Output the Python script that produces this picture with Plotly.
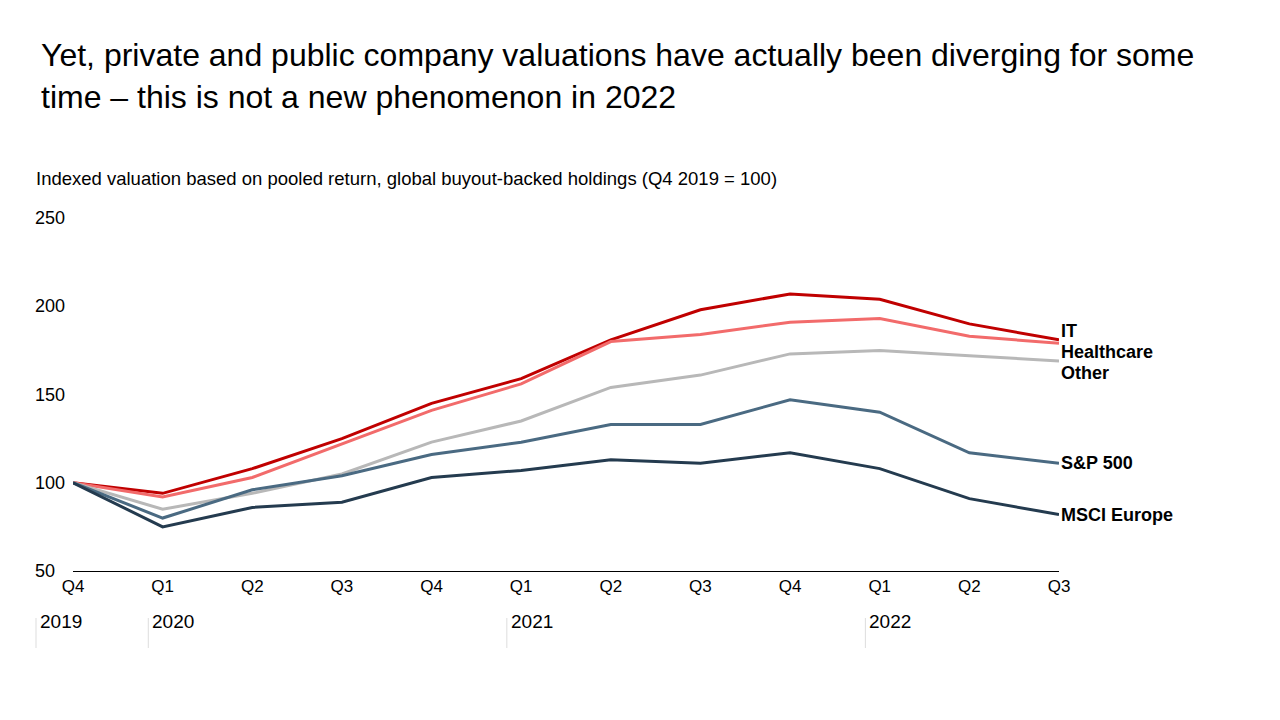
import plotly.graph_objects as go

quarters = ["Q4","Q1","Q2","Q3","Q4","Q1","Q2","Q3","Q4","Q1","Q2","Q3"]
years = ["2019","2020","2021","2022"]
year_start_idx = [0,1,5,9]
series_names = ["IT","Healthcare","Other","S&P 500","MSCI Europe"]
it = [100,94,108,125,145,159,181,198,207,204,190,181]
healthcare = [100,92,103,122,141,156,180,184,191,193,183,179]
other = [100,85,94,105,123,135,154,161,173,175,172,169]
sp500 = [100,80,96,104,116,123,133,133,147,140,117,111]
msci = [100,75,86,89,103,107,113,111,117,108,91,82]
y_ticks = [50,100,150,200,250]

colors = ["#c00000","#f26b6b","#b8b8b8","#4a6a82","#243b4f"]
data = [it, healthcare, other, sp500, msci]
x = list(range(len(quarters)))
FONT = "Liberation Sans, Arial, sans-serif"
OFF = 8  # page body margin
L, R, T, B = 73, 1059, 218, 571
PW, PH = R - L, B - T

def px(fx):  # figure pixel x -> paper x
    return (fx - L) / PW
def py(fy):
    return (B - fy) / PH

fig = go.Figure()
for name, vals, c in zip(series_names, data, colors):
    fig.add_trace(go.Scatter(x=x, y=vals, mode="lines", name=name,
                             line=dict(color=c, width=3), showlegend=False))

ann = []
label_y = {"IT":186,"Healthcare":174,"Other":162,"S&P 500":111,"MSCI Europe":82}
for name in series_names:
    ann.append(dict(x=11, y=label_y[name], xref="x", yref="y", text="<b>"+name+"</b>",
                    showarrow=False, xanchor="left", xshift=0,
                    font=dict(size=18, color="black", family=FONT)))
for t in y_ticks:
    ann.append(dict(x=px(33), y=t, xref="paper", yref="y", text=str(t), showarrow=False,
                    xanchor="left", font=dict(size=18, color="black", family=FONT)))
shapes = []
step = PW / 11
for yr, i in zip(years, year_start_idx):
    fx = 36 if i == 0 else L + (i - 0.16) * step
    shapes.append(dict(type="line", xref="paper", yref="paper", x0=px(fx), x1=px(fx),
                       y0=py(618), y1=py(648), line=dict(color="#dddddd", width=1)))
    ann.append(dict(x=px(fx), y=py(634), xref="paper", yref="paper", text=yr, showarrow=False,
                    xanchor="left", xshift=2, font=dict(size=19, color="black", family=FONT)))

ann.append(dict(x=px(39), y=py(35), xref="paper", yref="paper", xanchor="left", yanchor="top",
                text="Yet, private and public company valuations have actually been diverging for some<br>time – this is not a new phenomenon in 2022",
                showarrow=False, align="left", font=dict(size=32, color="black", family=FONT)))
ann.append(dict(x=px(34), y=py(166), xref="paper", yref="paper", xanchor="left", yanchor="top",
                text="Indexed valuation based on pooled return, global buyout-backed holdings (Q4 2019 = 100)",
                showarrow=False, align="left", font=dict(size=18.5, color="black", family=FONT)))

fig.update_layout(
    width=1280, height=720, paper_bgcolor="white", plot_bgcolor="white",
    margin=dict(l=L - OFF, r=1280 - R + OFF, t=T - OFF, b=720 - B + OFF),
    font=dict(family=FONT, color="black", size=17),
    xaxis=dict(tickmode="array", tickvals=x, ticktext=quarters, range=[0, 11],
               showgrid=False, showline=True, linecolor="black", linewidth=1,
               ticks="", tickfont=dict(size=17), zeroline=False),
    yaxis=dict(range=[50, 250], showgrid=False, showticklabels=False, zeroline=False),
    annotations=ann, shapes=shapes,
)
fig.write_html("out.html")
